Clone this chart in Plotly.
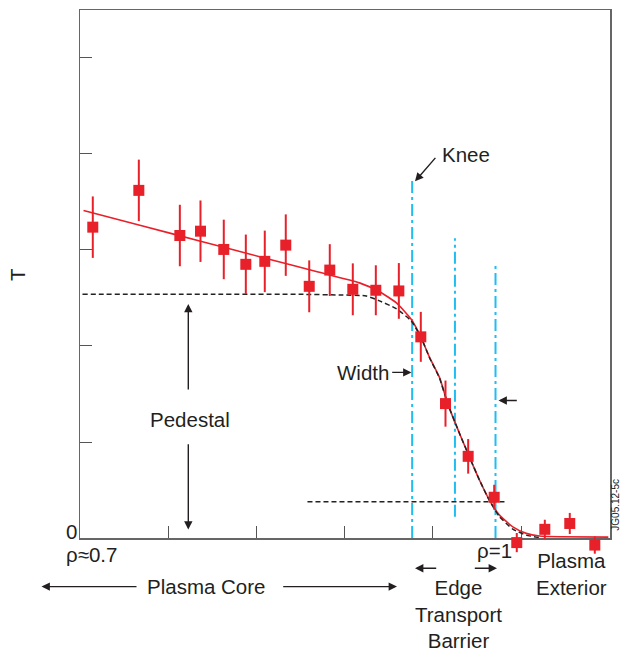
import plotly.graph_objects as go

# ---- data (arbitrary units: x = radial position, y = temperature) ----
rho_pts = [0.145, 0.667, 1.132, 1.366, 1.630, 1.880, 2.095, 2.333, 2.599, 2.832, 3.093,
           3.354, 3.615, 3.864, 4.144, 4.401, 4.696, 4.952, 5.270, 5.553, 5.837]
T_pts = [3.237, 3.620, 3.150, 3.195, 3.005, 2.850, 2.881, 3.050, 2.621, 2.790, 2.590,
         2.580, 2.573, 2.095, 1.400, 0.851, 0.425, -0.047, 0.091, 0.152, -0.073]
T_err = [0.32, 0.32, 0.32, 0.32, 0.31, 0.31, 0.32, 0.32, 0.27, 0.27, 0.27,
         0.26, 0.29, 0.26, 0.24, 0.18, 0.13, 0.10, 0.10, 0.11, 0.09]

fit_x = [0.040, 0.700, 1.400, 2.100, 2.700, 3.169, 3.396, 3.585, 3.755, 3.864, 3.963,
         4.076, 4.170, 4.303, 4.416, 4.530, 4.643, 4.756, 4.907, 5.059, 5.210, 5.437, 5.990]
fit_T = [3.410, 3.251, 3.083, 2.914, 2.770, 2.657, 2.565, 2.451, 2.279, 2.095, 1.881,
         1.673, 1.397, 1.089, 0.843, 0.602, 0.394, 0.239, 0.117, 0.049, 0.021, 0.013, 0.010]

ped_x = [0.028, 1.500, 2.489, 2.942, 3.245, 3.396, 3.585, 3.755, 3.864, 3.963, 4.076,
         4.170, 4.303, 4.416, 4.530, 4.643, 4.756, 4.907, 5.059, 5.210]
ped_T = [2.538, 2.538, 2.538, 2.531, 2.521, 2.469, 2.389, 2.261, 2.095, 1.878, 1.665,
         1.397, 1.089, 0.843, 0.602, 0.389, 0.223, 0.093, 0.031, 0.005]

foot_x = [2.579, 4.824]
foot_T = [0.377, 0.377]

vline_x = [3.766, 4.251, 4.711]
vline_top = [3.734, 3.122, 2.856]
vline_bot = [0.0, 0.221, 0.0]

tick_vals = [1, 2, 3, 4, 5]

RED = "#e8202a"
BLUE = "#1fbdf0"
INK = "#231f20"
FONT = "Liberation Sans, Arial, sans-serif"

L, T0, W, H = 80, 8, 530, 530   # main frame in page pixels
EXTRA = 20                       # extra room below the frame for points under zero
XU, YU = 88.2, 96.4              # pixels per data unit

fig = go.Figure()

for x, yt, yb in zip(vline_x, vline_top, vline_bot):
    fig.add_trace(go.Scatter(x=[x, x], y=[yb, yt], mode="lines",
                             line=dict(color=BLUE, width=2, dash="12px,4px,3px,4px"),
                             hoverinfo="skip", showlegend=False))

fig.add_trace(go.Scatter(x=fit_x, y=fit_T, mode="lines",
                         line=dict(color=RED, width=1.6, shape="spline", smoothing=0.5),
                         showlegend=False))
fig.add_trace(go.Scatter(x=ped_x, y=ped_T, mode="lines",
                         line=dict(color="#222222", width=1.5, dash="5px,3px",
                                   shape="spline", smoothing=0.5),
                         showlegend=False))
fig.add_trace(go.Scatter(x=foot_x, y=foot_T, mode="lines",
                         line=dict(color="#222222", width=1.5, dash="5px,3px"),
                         showlegend=False))
fig.add_trace(go.Scatter(x=rho_pts, y=T_pts, mode="markers", yaxis="y2",
                         marker=dict(symbol="square", size=11, color=RED),
                         error_y=dict(type="data", array=T_err, color=RED,
                                      thickness=2, width=0),
                         cliponaxis=False, showlegend=False))


def px(x):
    return (x - L) / W


def py(y):
    return (T0 + H + EXTRA - y) / (H + EXTRA)


ann = []


def text(t, x, y, size=20.5, angle=0):
    ann.append(dict(text=t, x=px(x), y=py(y), xref="paper", yref="paper",
                    showarrow=False, xanchor="center", yanchor="middle",
                    textangle=angle, font=dict(family=FONT, size=size, color=INK)))


def arrow(x0, y0, x1, y1):
    ann.append(dict(text="", x=px(x1), y=py(y1), xref="paper", yref="paper",
                    ax=x0 - x1, ay=y0 - y1, axref="pixel", ayref="pixel",
                    showarrow=True, arrowhead=2, arrowsize=1.2, arrowwidth=1.4,
                    arrowcolor=INK))


text("T", 17, 274, angle=-90)
text("0", 71.5, 531)
text("ρ≈0.7", 91, 554)
text("ρ=1", 494, 550)
text("Knee", 466, 153)
text("Width", 362.5, 372)
text("Pedestal", 190, 419)
text("Plasma Core", 206, 586.5)
text("Edge<br>Transport<br>Barrier", 458.5, 614.5)
text("Plasma<br>Exterior", 571.5, 574)
text("JG05.12-5c", 615.5, 505, size=10, angle=-90)

arrow(436.7, 155, 415, 180)
arrow(188.3, 390, 188.3, 303)
arrow(188.3, 442.7, 188.3, 529.5)
arrow(390.7, 371.7, 411.5, 371.7)
arrow(518.3, 400, 498.5, 400)
arrow(138, 586.7, 41.5, 586.7)
arrow(281.7, 586.7, 397, 586.7)
arrow(437.7, 568.3, 415, 568.3)
arrow(473.3, 568.3, 497, 568.3)

axis_common = dict(showgrid=False, zeroline=False, showticklabels=False,
                   showline=True, linecolor="#666666", linewidth=1.5, mirror=True,
                   ticks="inside", ticklen=12, tickwidth=1, tickcolor="#555555",
                   tickvals=tick_vals, layer="below traces", fixedrange=True)

fig.update_layout(
    width=621, height=651,
    margin=dict(l=L, r=621 - L - W, t=T0, b=651 - T0 - H - EXTRA),
    paper_bgcolor="white", plot_bgcolor="rgba(0,0,0,0)",
    xaxis=dict(range=[0, W / XU], anchor="y", **axis_common),
    yaxis=dict(range=[0, H / YU], domain=[EXTRA / (H + EXTRA), 1], anchor="x",
               **axis_common),
    yaxis2=dict(range=[-EXTRA / YU, H / YU], domain=[0, 1], anchor="x",
                visible=False, fixedrange=True),
    annotations=ann,
    showlegend=False,
)

fig.write_html("out.html", config={"displayModeBar": False, "staticPlot": True},
               post_script="document.body.style.margin='0px';")
